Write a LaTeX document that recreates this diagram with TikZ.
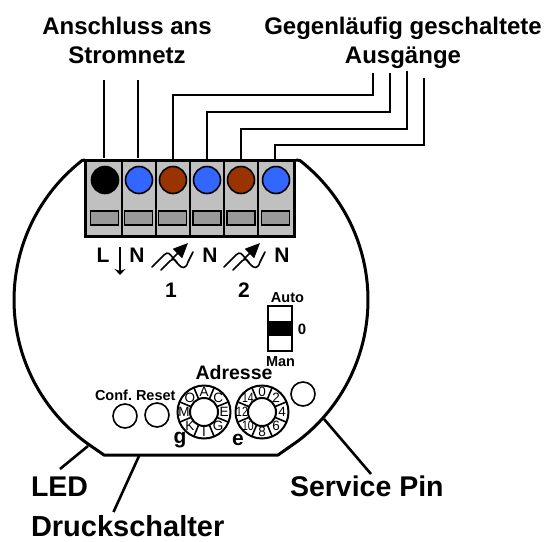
\documentclass[tikz,border=0pt]{standalone}
\usepackage{fontspec}
\setmainfont{Liberation Sans}
\usetikzlibrary{arrows.meta}
\definecolor{gray60}{HTML}{999999}
\definecolor{blockgray}{HTML}{C0C0C0}
\definecolor{termblue}{HTML}{3366FF}
\definecolor{termbrown}{HTML}{993300}
\tikzset{
  wire/.style={line width=2.4pt,line join=miter},
  leader/.style={line width=2.6pt},
  body/.style={line width=3pt,line join=round},
  lbl/.style={anchor=base,inner sep=0pt,outer sep=0pt,font=\bfseries\fontsize{#1}{#1}\selectfont},
  lbll/.style={anchor=base west,inner sep=0pt,outer sep=0pt,font=\bfseries\fontsize{#1}{#1}\selectfont},
  dot/.style={circle,draw=black,line width=1.6pt,minimum size=27pt,inner sep=0pt},
  slot/.style={draw=black,line width=1.4pt,fill=gray60,minimum width=28pt,minimum height=14pt,inner sep=0pt},
  btn/.style={circle,draw=black,line width=1.6pt,fill=white,minimum size=24pt,inner sep=0pt},
  dlbl/.style={inner sep=0pt,text=black,font=\fontsize{13.5}{13.5}\selectfont},
  sym/.style={line width=1.6pt,line cap=round},
}
\newcommand{\dimsym}[1]{%
  \begin{scope}[xshift=#1pt]
    \draw[sym] (152,267) -- (164,255) .. controls (168,251) and (170,254) .. (173,258) -- (177,263);
    \draw[sym] (161,270) -- (170,261) .. controls (174,257) and (176,261) .. (178,264) .. controls (182,269) and (186,269) .. (188,262) -- (193,252);
    \draw[line width=1.6pt,-{Triangle[width=13pt,length=15pt]}] (172,259) -- (188,243);
  \end{scope}}
\newcommand{\dial}[3]{%
  \draw[line width=2pt,fill=white] (#2,#3) circle[radius=26.5];
  \foreach \a in {22.5,67.5,...,360}
    \draw[line width=1.6pt] ({#2+14*cos(\a)},{#3+14*sin(\a)}) -- ({#2+26*cos(\a)},{#3+26*sin(\a)});
  \node[circle,draw=black,line width=2pt,fill=white,minimum size=28pt,inner sep=0pt] (#1) at (#2,#3) {};}
\begin{document}
\begin{tikzpicture}[x=1pt,y=-1pt]
\useasboundingbox (0,0) rectangle (545,541);
% housing
\coordinate (tl) at (85,160);
\coordinate (tr) at (296,160);
\coordinate (bl) at (104,455);
\coordinate (br) at (278,455);
\draw[body] (tl) -- plot[domain=232:126,samples=50] ({191+177*cos(\x)},{300+177*sin(\x)}) -- (bl) -- (br)
  -- plot[domain=52.7:-52,samples=50] ({191+177*cos(\x)},{300+177*sin(\x)}) -- (tr);
% terminal block
\fill[blockgray] (85,160) rectangle (294,236);
\foreach \x in {122,156,190,224,258} \draw[line width=1.4pt] (\x,160) -- (\x,236);
\draw[line width=3pt] (85,160) rectangle (294,236);
\node[dot,fill=black] (t1) at (105,180) {};
\node[dot,fill=termblue] (t2) at (139,180) {};
\node[dot,fill=termbrown] (t3) at (173,180) {};
\node[dot,fill=termblue] (t4) at (207,180) {};
\node[dot,fill=termbrown] (t5) at (241,180) {};
\node[dot,fill=termblue] (t6) at (276,180) {};
\foreach \n/\x in {s1/104.5,s2/138.5,s3/172.5,s4/207,s5/241,s6/275.5} \node[slot] (\n) at (\x,218) {};
% wires
\coordinate (w1) at (104,80);
\coordinate (w2) at (138,80);
\coordinate (w3) at (373,73);
\coordinate (w4) at (390,73);
\coordinate (w5) at (407,71);
\coordinate (w6) at (424,78);
\coordinate (e1) at (104,158);
\coordinate (e2) at (138,158);
\coordinate (e3) at (173,160);
\coordinate (e4) at (207,160);
\coordinate (e5) at (241,160);
\coordinate (e6) at (275,160);
\draw[wire] (w1) -- (e1);
\draw[wire] (w2) -- (e2);
\draw[wire] (w3) -- (373,95) -- (173,95) -- (e3);
\draw[wire] (w4) -- (390,112) -- (207,112) -- (e4);
\draw[wire] (w5) -- (407,129) -- (241,129) -- (e5);
\draw[wire] (w6) -- (424,145) -- (275,145) -- (e6);
% headings
\node[lbl=24] (h1) at (127,34) {Anschluss ans};
\node[lbl=24] (h2) at (127,63) {Stromnetz};
\node[lbl=24] (h3) at (403,34) {Gegenläufig geschaltete};
\node[lbl=24] (h4) at (403,63) {Ausgänge};
% terminal labels
\node[lbl=21] (lL) at (103,262) {L};
\node[lbl=21] (lN1) at (137,262) {N};
\node[lbl=21] (lN2) at (210,262) {N};
\node[lbl=21] (lN3) at (282,262) {N};
\node[lbl=21] (l1) at (171,297) {1};
\node[lbl=21] (l2) at (244,297) {2};
\coordinate (ga) at (120,247);
\coordinate (gb) at (120,275);
\draw[line width=1.6pt,-{Stealth[width=11pt,length=6pt]}] (ga) -- (gb);
\dimsym{0}
\dimsym{72}
% switch
\node[lbl=14.5] (auto) at (287.5,302) {Auto};
\node[lbl=14.5] (man) at (280.5,366) {Man};
\node[lbl=15] (zero) at (302,334) {0};
\draw[line width=1.6pt,fill=white] (268,306) rectangle (292,351);
\fill[black] (268,321) rectangle (292,336);
% dials and buttons
\node[lbl=19.5] (adr) at (234,379) {Adresse};
\node[lbll=14.5] (conf) at (95,400) {Conf.};
\node[lbll=14.5] (reset) at (136,400) {Reset};
\node[btn] (b1) at (125,416) {};
\node[btn] (b2) at (157,415) {};
\node[btn] (b3) at (303,394) {};
\dial{dg}{204}{412}
\dial{de}{262}{412}
\foreach \t/\a in {A/-90,C/-45,E/0,G/45,I/90,K/135,M/180,O/225}
  \node[dlbl] at ({204+20*cos(\a)},{412+20*sin(\a)}) {\t};
\foreach \t/\a in {0/-90,2/-45,4/0,6/45,8/90}
  \node[dlbl] at ({262+20*cos(\a)},{412+20*sin(\a)}) {\t};
\foreach \t/\a in {10/135,12/180,14/225}
  \node[dlbl,xscale=.78] at ({262+20*cos(\a)},{412+20*sin(\a)}) {\t};
\node[lbl=21] (lg) at (180,443) {g};
\node[lbl=21] (le) at (238,445) {e};
% leaders and callouts
\node[lbll=28.5] (led) at (31,496) {LED};
\node[lbll=29] (dru) at (31,536) {Druckschalter};
\node[lbll=28.5] (srv) at (290,496) {Service Pin};
\coordinate (p1) at (88,446);
\coordinate (p2) at (60,469);
\coordinate (p3) at (139,456);
\coordinate (p4) at (113.5,512);
\coordinate (p5) at (324,419);
\coordinate (p6) at (371,474);
\draw[leader] (p1) -- (p2);
\draw[leader] (p3) -- (p4);
\draw[leader] (p5) -- (p6);
\end{tikzpicture}
\end{document}
